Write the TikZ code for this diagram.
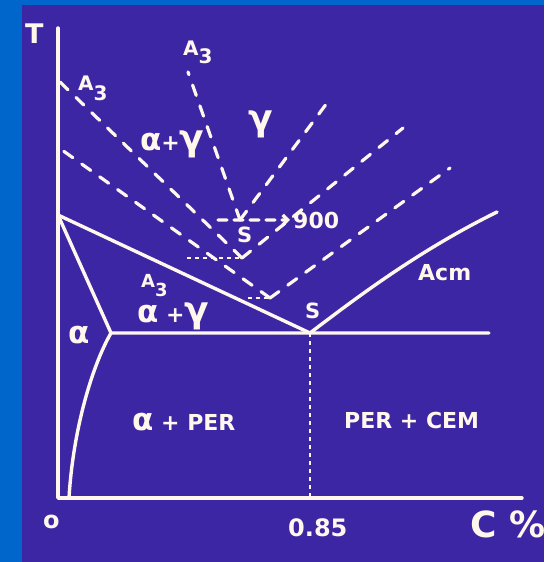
\documentclass[tikz,border=0pt]{standalone}
\usepackage{fontspec}
\setmainfont{DejaVu Sans}
\usetikzlibrary{arrows.meta}
\definecolor{slideB}{RGB}{0,102,204}
\definecolor{slideP}{RGB}{60,38,164}
\definecolor{chalk}{RGB}{255,247,235}
\newcommand\gka[1]{{\fontsize{31}{31}\selectfont #1}}
\newcommand\gkg[1]{{\fontsize{36}{36}\selectfont #1}}
\newcommand\fsz[1]{\bfseries\fontsize{#1}{#1}\selectfont}

\begin{document}
\begin{tikzpicture}[x=1pt,y=-1pt,
  phase/.style={chalk,line width=3.4pt,line cap=round,line join=round},
  shift line/.style={chalk,line width=3.2pt,line cap=round,dash pattern=on 11pt off 11pt},
  fine line/.style={chalk,line width=2pt,dash pattern=on 4pt off 4pt},
  lbl/.style={anchor=base west,inner sep=0pt,text=chalk,font=\fsz{22}}]
% slide: blue frame, violet field
\fill[slideB] (0,0) rectangle (544,562);
\fill[slideP] (22,5) rectangle (544,562);
\useasboundingbox (0,0) rectangle (544,562);
% key points
\coordinate (Tt) at (58,28);
\coordinate (O) at (58,498);
\coordinate (Ce) at (522,498);
\coordinate (G) at (58,215);
\coordinate (P) at (111,333);
\coordinate (S) at (310,333);
\coordinate (E) at (489,333);
\coordinate (M) at (497,212);
\coordinate (F) at (69,498);
% axes
\draw[phase] (Tt) -- (O) -- (Ce);
% A3, Acm, eutectoid, alpha field
\draw[phase] (G) -- (S) .. controls (360,295) and (420,250) .. (M);
\draw[phase] (G) -- (P) -- (E);
\draw[phase] (P) .. controls (92,366) and (73,430) .. (F);
\draw[fine line] (S) -- (S |- O);
% shifted A3 / Acm (dashed V's)
\coordinate (a1) at (188,72);  \coordinate (V1) at (240,220); \coordinate (b1) at (327,103);
\coordinate (a2) at (60,82);   \coordinate (V2) at (242,258); \coordinate (b2) at (403,128);
\coordinate (a3) at (62,150);  \coordinate (V3) at (270,298); \coordinate (b3) at (450,168);
\foreach \i in {1,2,3} {
  \draw[shift line] (V\i) -- (a\i);
  \draw[shift line] (V\i) -- (b\i);
}
\coordinate (h1) at (218,220);
\coordinate (h2) at (187,258);
\coordinate (h3) at (248,298);
\draw[fine line] (h2) -- (V2);
\draw[fine line] (h3) -- (V3);
% labels
\node[lbl,font=\fsz{27}] (tl) at (25,43) {T};
\node[lbl,font=\fsz{24}] (ol) at (43,528) {o};
\node[lbl,font=\fsz{24}] (cl) at (288,536) {0.85};
\node[lbl,font=\fsz{36}] (pl) at (470,537) {C \%};
\node[lbl,font=\fsz{20}] (a3top) at (183,55) {A\raisebox{-8pt}{3}};
\node[lbl,font=\fsz{20}] (a3left) at (78,90) {A\raisebox{-10pt}{3}};
\node[lbl,font=\fsz{18}] (a3low) at (141,287) {A\raisebox{-9pt}{3}};
\node[lbl] (agup) at (140,150) {\gka{α}+\gkg{γ}};
\node[lbl] (gam) at (248,130) {\gkg{γ}};
\node[lbl] (aglow) at (137,322) {\gka{α} +\gkg{γ}};
\node[lbl] (alp) at (68,343) {\gka{α}};
\node[lbl] (aper) at (132,430) {\gka{α} + PER};
\node[lbl] (pcem) at (344,428) {PER + CEM};
\node[lbl] (acm) at (418,280) {Acm};
\node[lbl,font=\fsz{21}] (sup) at (237,242) {S};
\node[lbl,font=\fsz{21}] (slow) at (305,318) {S};
\node[lbl] (n900) at (293,228) {900};
\draw[shift line,dash pattern=on 9pt off 7pt,-{Straight Barb[length=5pt,width=10pt]}] (h1) -- ([xshift=-3pt]n900.west);
\end{tikzpicture}
\end{document}
